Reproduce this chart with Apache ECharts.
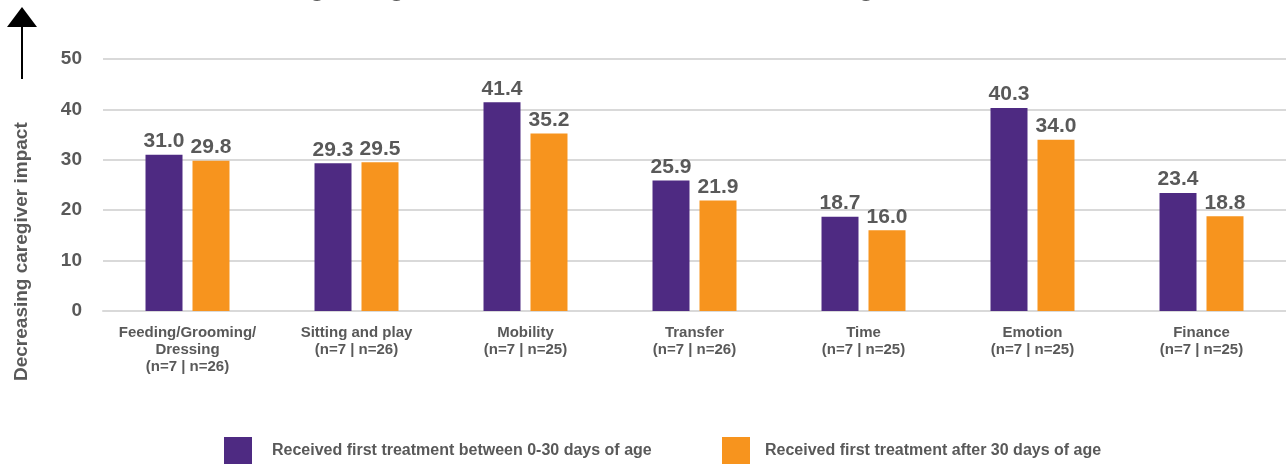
<!DOCTYPE html>
<html>
<head>
<meta charset="utf-8">
<script src="https://cdn.jsdelivr.net/npm/echarts@6/dist/echarts.min.js"></script>
<style>
html,body{margin:0;padding:0;background:#fff;}
#chart{width:1286px;height:464px;}
</style>
</head>
<body>
<div id="chart"></div>
<script>
const categories = [
  "Feeding/Grooming/\nDressing\n(n=7 | n=26)",
  "Sitting and play\n(n=7 | n=26)",
  "Mobility\n(n=7 | n=25)",
  "Transfer\n(n=7 | n=26)",
  "Time\n(n=7 | n=25)",
  "Emotion\n(n=7 | n=25)",
  "Finance\n(n=7 | n=25)"
];
const seriesNames = [
  "Received first treatment between 0-30 days of age",
  "Received first treatment after 30 days of age"
];
const early = [31.0, 29.3, 41.4, 25.9, 18.7, 40.3, 23.4];
const late = [29.8, 29.5, 35.2, 21.9, 16.0, 34.0, 18.8];
const yTicks = [0, 10, 20, 30, 40, 50];
const titleText = "Ranking caregivers domains and burden across ages at treatment";
const yAxisTitle = "Decreasing caregiver impact";

const FONT = "'Liberation Sans', Arial, sans-serif";
const GREY = "#595959";

const chart = echarts.init(document.getElementById('chart'));
chart.setOption({
  animation: false,
  backgroundColor: '#fff',
  title: {
    text: titleText,
    left: 'center',
    top: -31,
    textStyle: {fontFamily: FONT, fontWeight: 'bold', fontSize: 27, color: GREY}
  },
  grid: {left: 103, right: 0, top: 59, bottom: 153, containLabel: false},
  legend: [
    {data: [seriesNames[0]], left: 224, top: 437, padding: 0, itemWidth: 28, itemHeight: 28, icon: 'rect',
     textStyle: {fontFamily: FONT, fontWeight: 'bold', fontSize: 16, color: GREY, padding: [3, 0, 0, 15]}},
    {data: [seriesNames[1]], left: 722, top: 437, padding: 0, itemWidth: 28, itemHeight: 28, icon: 'rect',
     textStyle: {fontFamily: FONT, fontWeight: 'bold', fontSize: 16, color: GREY, padding: [3, 0, 0, 10]}}
  ],
  xAxis: {
    type: 'category',
    data: categories,
    axisLine: {lineStyle: {color: '#d9d9d9', width: 2}},
    axisTick: {show: false},
    axisLabel: {interval: 0, margin: 13, fontFamily: FONT, fontWeight: 'bold', fontSize: 15, color: GREY, lineHeight: 17}
  },
  yAxis: {
    type: 'value',
    min: yTicks[0],
    max: yTicks[yTicks.length - 1],
    interval: 10,
    axisLine: {show: false},
    axisTick: {show: false},
    splitLine: {lineStyle: {color: '#d9d9d9', width: 2}},
    axisLabel: {margin: 21, padding: [4, 0, 0, 0], fontFamily: FONT, fontWeight: 'bold', fontSize: 19, color: GREY}
  },
  series: [
    {name: seriesNames[0], type: 'bar', data: early, barWidth: 37, barGap: '27%',
     itemStyle: {color: '#4e2a82'},
     label: {show: true, position: 'top', distance: 3, formatter: p => p.value.toFixed(1),
             fontFamily: FONT, fontWeight: 'bold', fontSize: 21, color: GREY}},
    {name: seriesNames[1], type: 'bar', data: late, barWidth: 37,
     itemStyle: {color: '#f7941e'},
     label: {show: true, position: 'top', distance: 3, formatter: p => p.value.toFixed(1),
             fontFamily: FONT, fontWeight: 'bold', fontSize: 21, color: GREY}}
  ],
  graphic: [
    {type: 'text', x: 12, y: 381, rotation: Math.PI / 2,
     style: {text: yAxisTitle, fontFamily: FONT, fontWeight: 'bold', fontSize: 19, fill: GREY,
             align: 'left', verticalAlign: 'top'}},
    {type: 'line', shape: {x1: 22, y1: 26, x2: 22, y2: 79}, style: {stroke: '#000', lineWidth: 2}},
    {type: 'polygon', shape: {points: [[7, 27], [37, 27], [22, 7]]}, style: {fill: '#000'}}
  ]
});
</script>
</body>
</html>
